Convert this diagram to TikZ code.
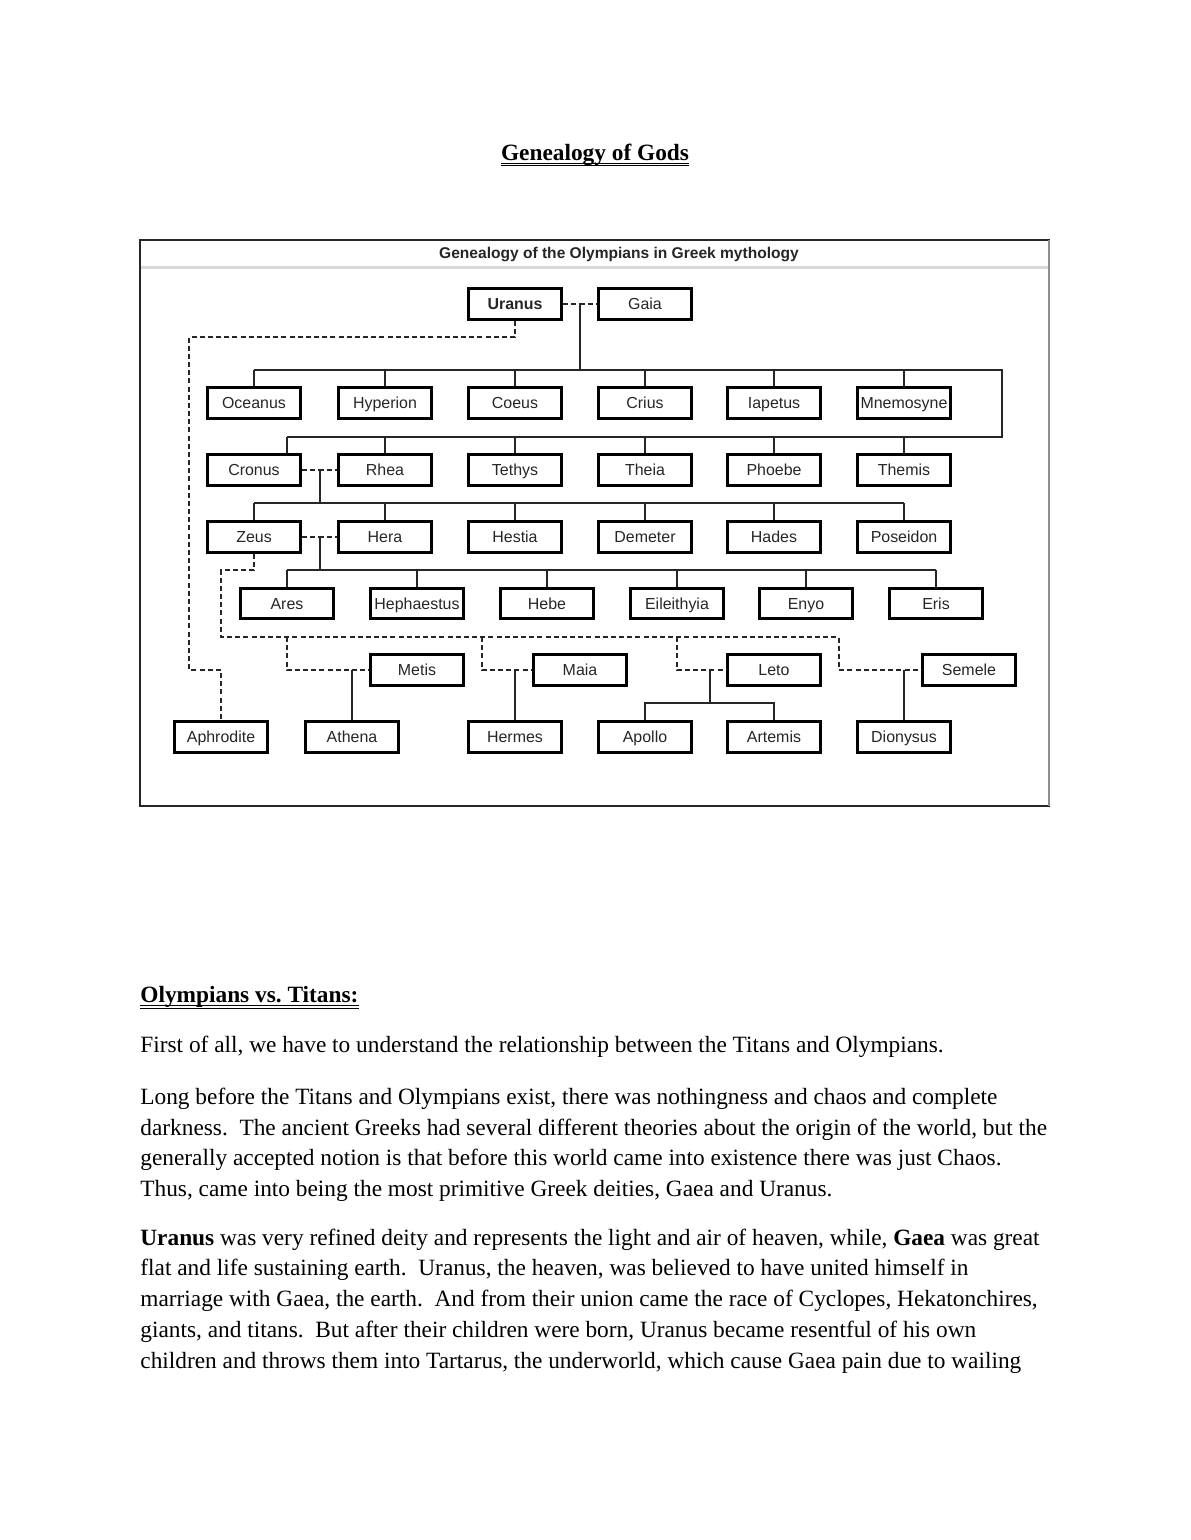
\documentclass[tikz,border=0pt]{standalone}
\usepackage{fontspec}
\setmainfont{Liberation Serif}
\newfontfamily\diagfont{Liberation Sans}
\begin{document}
\frenchspacing
\begin{tikzpicture}[x=0.5143pt,y=-0.5143pt,
  god/.style={draw=black,line width=1.5pt,minimum width=48pt,minimum height=15.5pt,inner sep=0pt,text height=6.3pt,text depth=0.3pt,font=\diagfont\fontsize{8.2}{9}\selectfont,text=black!85},
  kid/.style={line width=0.8pt,draw=black!85},
  marry/.style={kid,dash pattern=on 2.6pt off 1.6pt},
  txt/.style={anchor=base west,inner sep=0pt,font=\fontsize{12}{14}\selectfont},
  uline/.style={line width=0.5pt}]
\useasboundingbox (0,0) rectangle (1190,1540);
\fill[white] (0,0) rectangle (1190,1540);

% page heading
\node[anchor=base,inner sep=0pt,font=\fontsize{12}{14}\selectfont\bfseries] (hd) at (595,160) {Genealogy of Gods};
\draw[uline] ([yshift=-1.6pt]hd.base west) -- ([yshift=-1.6pt]hd.base east);
\draw[uline] ([yshift=-2.8pt]hd.base west) -- ([yshift=-2.8pt]hd.base east);

% frame
\draw[line width=0.8pt,black!85] (1050,240) -- (140,240) -- (140,806) -- (1050,806);
\draw[line width=0.8pt,black!45] (1049,240) -- (1049,806);
\draw[line width=1.2pt,black!15] (141,267.5) -- (1048,267.5);
\node[font=\diagfont\fontsize{8}{9}\selectfont\bfseries,text=black!85] (dt) at (619,255) {Genealogy of the Olympians in Greek mythology};

% gods
\node[god,font=\diagfont\fontsize{8.2}{9}\selectfont\bfseries] (Uranus) at (515,304) {Uranus};
\node[god] (Gaia) at (645,304) {Gaia};

\node[god] (Oceanus) at (254,403) {Oceanus};
\node[god] (Hyperion) at (385,403) {Hyperion};
\node[god] (Coeus) at (515,403) {Coeus};
\node[god] (Crius) at (645,403) {Crius};
\node[god] (Iapetus) at (774,403) {Iapetus};
\node[god] (Mnemosyne) at (904,403) {Mnemosyne};

\node[god] (Cronus) at (254,470) {Cronus};
\node[god] (Rhea) at (385,470) {Rhea};
\node[god] (Tethys) at (515,470) {Tethys};
\node[god] (Theia) at (645,470) {Theia};
\node[god] (Phoebe) at (774,470) {Phoebe};
\node[god] (Themis) at (904,470) {Themis};

\node[god] (Zeus) at (254,537) {Zeus};
\node[god] (Hera) at (385,537) {Hera};
\node[god] (Hestia) at (515,537) {Hestia};
\node[god] (Demeter) at (645,537) {Demeter};
\node[god] (Hades) at (774,537) {Hades};
\node[god] (Poseidon) at (904,537) {Poseidon};

\node[god] (Ares) at (287,603.5) {Ares};
\node[god] (Hephaestus) at (417,603.5) {Hephaestus};
\node[god] (Hebe) at (547,603.5) {Hebe};
\node[god] (Eileithyia) at (677,603.5) {Eileithyia};
\node[god] (Enyo) at (806,603.5) {Enyo};
\node[god] (Eris) at (936,603.5) {Eris};

\node[god] (Metis) at (417,670) {Metis};
\node[god] (Maia) at (580,670) {Maia};
\node[god] (Leto) at (774,670) {Leto};
\node[god] (Semele) at (969,670) {Semele};

\node[god] (Aphrodite) at (221,737) {Aphrodite};
\node[god] (Athena) at (352,737) {Athena};
\node[god] (Hermes) at (515,737) {Hermes};
\node[god] (Apollo) at (645,737) {Apollo};
\node[god] (Artemis) at (774,737) {Artemis};
\node[god] (Dionysus) at (904,737) {Dionysus};

% junction coordinates
\coordinate (ug) at (580,304);
\coordinate (tb) at (580,370);
\coordinate (tbR) at (1002,370);
\coordinate (tbR2) at (1002,437);
\coordinate (cr) at (287,437);
\coordinate (crm) at (320,470);
\coordinate (crb) at (320,503);
\coordinate (zhm) at (320,537);
\coordinate (zhb) at (320,570);
\coordinate (za) at (221,570);
\coordinate (zb) at (221,637);
\coordinate (ze) at (839,637);
\coordinate (me1) at (287,637);
\coordinate (me2) at (287,670);
\coordinate (am) at (352,670);
\coordinate (ma1) at (482,637);
\coordinate (ma2) at (482,670);
\coordinate (hm) at (515,670);
\coordinate (le1) at (677,637);
\coordinate (le2) at (677,670);
\coordinate (lm) at (710,670);
\coordinate (lb) at (710,703);
\coordinate (se2) at (839,670);
\coordinate (dm) at (904,670);
\coordinate (ua) at (515,337);
\coordinate (ub) at (189,337);
\coordinate (uc) at (189,670);
\coordinate (ud) at (221,670);

% Uranus & Gaia
\draw[marry] (Uranus) -- (Gaia);
\draw[kid] (ug) -- (tb);
\draw[kid] (Oceanus.north |- tb) -- (tbR) -- (tbR2) -- (cr);
\foreach \n in {Oceanus,Hyperion,Coeus,Crius,Iapetus,Mnemosyne}
  \draw[kid] (\n.north) -- (\n.north |- tb);
\draw[kid] (cr) -- (cr |- Cronus.north);
\foreach \n in {Rhea,Tethys,Theia,Phoebe,Themis}
  \draw[kid] (\n.north) -- (\n.north |- cr);

% Cronus & Rhea
\draw[marry] (Cronus) -- (Rhea);
\draw[kid] (crm) -- (crb);
\draw[kid] (Zeus.north |- crb) -- (Poseidon.north |- crb);
\foreach \n in {Zeus,Hera,Hestia,Demeter,Hades,Poseidon}
  \draw[kid] (\n.north) -- (\n.north |- crb);

% Zeus & Hera
\draw[marry] (Zeus) -- (Hera);
\draw[kid] (zhm) -- (zhb);
\draw[kid] (Ares.north |- zhb) -- (Eris.north |- zhb);
\foreach \n in {Ares,Hephaestus,Hebe,Eileithyia,Enyo,Eris}
  \draw[kid] (\n.north) -- (\n.north |- zhb);

% Zeus other unions
\draw[marry] (Zeus.south) -- (Zeus.south |- za) -- (za) -- (zb) -- (ze) -- (se2) -- (Semele.west);
\draw[marry] (me1) -- (me2) -- (Metis.west);
\draw[marry] (ma1) -- (ma2) -- (Maia.west);
\draw[marry] (le1) -- (le2) -- (Leto.west);
\draw[kid] (am) -- (Athena.north);
\draw[kid] (hm) -- (Hermes.north);
\draw[kid] (lm) -- (lb);
\draw[kid] (Apollo.north) -- (Apollo.north |- lb) -- (Artemis.north |- lb) -- (Artemis.north);
\draw[kid] (dm) -- (Dionysus.north);

% Uranus -> Aphrodite
\draw[marry] (Uranus.south) -- (ua) -- (ub) -- (uc) -- (ud) -- (Aphrodite.north);

% body text
\node[txt,font=\fontsize{12}{14}\selectfont\bfseries] (st) at (140,1002) {Olympians vs. Titans:};
\draw[uline] ([yshift=-1.7pt]st.base west) -- ([yshift=-1.7pt]st.base east);
\draw[uline] ([yshift=-3.1pt]st.base west) -- ([yshift=-3.1pt]st.base east);

\node[txt] (p1) at (140,1052) {First of all, we have to understand the relationship between the Titans and Olympians.};

\node[txt] (p2a) at (140,1104) {Long before the Titans and Olympians exist, there was nothingness and chaos and complete};
\node[txt] (p2b) at (140,1135) {darkness.~ The ancient Greeks had several different theories about the origin of the world, but the};
\node[txt] (p2c) at (140,1165) {generally accepted notion is that before this world came into existence there was just Chaos.};
\node[txt] (p2d) at (140,1196) {Thus, came into being the most primitive Greek deities, Gaea and Uranus.};

\node[txt] (p3a) at (140,1245) {\textbf{Uranus} was very refined deity and represents the light and air of heaven, while, \textbf{Gaea} was great};
\node[txt] (p3b) at (140,1275) {flat and life sustaining earth.~ Uranus, the heaven, was believed to have united himself in};
\node[txt] (p3c) at (140,1306) {marriage with Gaea, the earth.~ And from their union came the race of Cyclopes, Hekatonchires,};
\node[txt] (p3d) at (140,1337) {giants, and titans.~ But after their children were born, Uranus became resentful of his own};
\node[txt] (p3e) at (140,1368) {children and throws them into Tartarus, the underworld, which cause Gaea pain due to wailing};
\end{tikzpicture}
\end{document}
